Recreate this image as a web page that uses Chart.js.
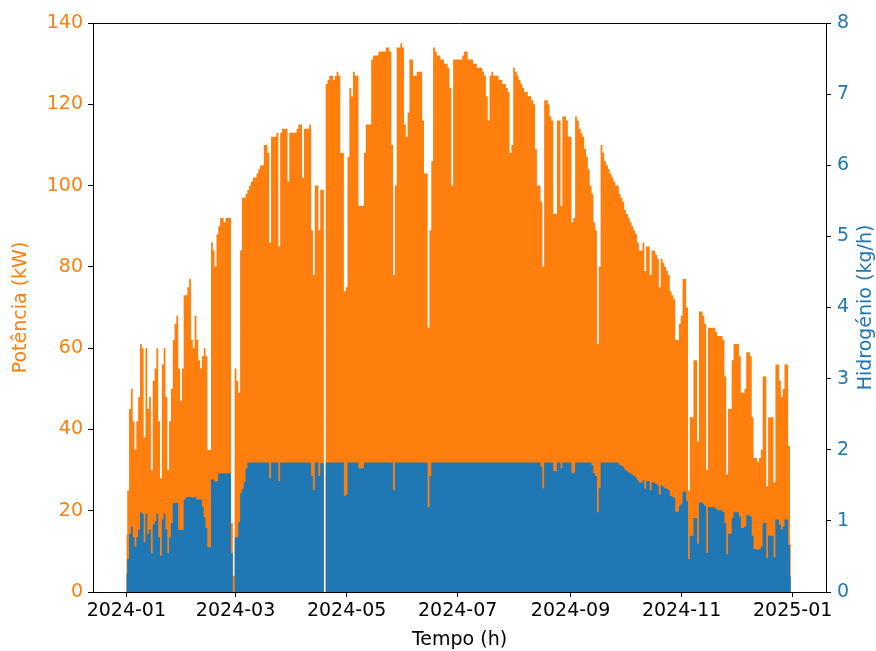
<!DOCTYPE html>
<html><head><meta charset="utf-8">
<script src="https://cdn.jsdelivr.net/npm/chart.js@4.4.1/dist/chart.umd.min.js"></script>
<style>html,body{margin:0;padding:0;background:#fff;}#wrap{width:876px;height:651px;}</style>
</head><body><div id="wrap"><canvas id="c" width="876" height="651"></canvas></div>
<script>
// Daily peak power (kW), one value per day of 2024
const pJan=[14,25,45,50,42,35,42,48,61,60,38,60,45,48,30,52,55,60,42,28,56,60,48,30,42,50,62,66,68,55,47];
const pFeb=[55,73,73,75,77,62,60,68,62,57,55,58,60,58,35,35,86,84,80,88,90,92,92,91,92,92,92,17,4];
const pMar=[55,52,49,84,97,97,98,99,100,101,102,102,103,104,105,105,110,110,108,86,112,112,112,113,85,113,114,114,114,101,113];
const pApr=[113,113,113,114,115,115,102,114,114,114,115,89,78,100,100,89,99,99,0,125,126,127,127,126,127,128,127,108,108,74];
const pMay=[75,107,124,122,128,127,127,95,95,95,108,115,115,115,131,132,132,132,133,133,133,133,134,134,133,110,78,100,134,134,135];
const pJun=[134,115,112,118,131,131,127,127,128,128,128,116,103,103,65,89,106,134,133,132,132,131,131,130,130,129,124,100,131,131];
const pJul=[131,131,131,132,133,133,131,131,131,130,130,129,129,129,128,127,122,116,127,128,127,127,127,126,126,125,125,124,123,108,110];
const pAug=[129,128,127,126,125,124,123,123,122,122,121,120,109,100,100,96,80,121,121,120,117,116,93,93,116,116,95,117,117,116,112];
const pSep=[112,91,92,117,116,114,113,112,109,107,104,100,98,91,89,61,80,110,108,106,105,104,103,102,101,100,100,98,97,96];
const pOct=[94,93,92,91,90,89,88,86,84,84,86,79,85,85,78,84,84,83,82,75,82,81,80,79,78,74,73,72,62,62,66];
const pNov=[68,77,77,70,25,43,43,57,57,37,69,69,68,66,30,65,65,65,65,64,63,63,63,62,53,29,45,45,57,61];
const pDec=[61,61,58,49,49,50,59,59,58,43,33,33,32,33,35,53,53,26,43,43,43,27,56,56,52,48,50,56,56,36,12];

// Daily peak hydrogen (kg/h)
const hJan=[0.26,0.46,0.82,0.92,0.77,0.64,0.77,0.88,1.12,1.1,0.7,1.1,0.82,0.88,0.55,0.95,1.0,1.1,0.77,0.51,1.02,1.1,0.88,0.55,0.77,0.97,1.25,1.25,1.25,0.87,0.87];
const hFeb=[0.87,1.3,1.33,1.34,1.34,1.33,1.33,1.34,1.3,1.3,1.3,1.2,1.05,0.9,0.63,0.63,1.58,1.58,1.55,1.56,1.67,1.67,1.67,1.67,1.67,1.67,1.67,0.55,0.0];
const hMar=[0.77,0.77,0.98,1.39,1.45,1.55,1.74,1.82,1.82,1.82,1.82,1.82,1.82,1.82,1.82,1.82,1.82,1.82,1.82,1.6,1.82,1.82,1.82,1.82,1.56,1.82,1.82,1.82,1.82,1.82,1.82];
const hApr=[1.82,1.82,1.82,1.82,1.82,1.82,1.82,1.82,1.82,1.82,1.82,1.63,1.43,1.82,1.82,1.63,1.81,1.81,0,1.82,1.82,1.82,1.82,1.82,1.82,1.82,1.82,1.82,1.82,1.35];
const hMay=[1.37,1.82,1.82,1.82,1.82,1.82,1.82,1.74,1.74,1.74,1.82,1.82,1.82,1.82,1.82,1.82,1.82,1.82,1.82,1.82,1.82,1.82,1.82,1.82,1.82,1.82,1.43,1.82,1.82,1.82,1.82];
const hJun=[1.82,1.82,1.82,1.82,1.82,1.82,1.82,1.82,1.82,1.82,1.82,1.82,1.82,1.82,1.19,1.63,1.82,1.82,1.82,1.82,1.82,1.82,1.82,1.82,1.82,1.82,1.82,1.82,1.82,1.82];
const hJul=[1.82,1.82,1.82,1.82,1.82,1.82,1.82,1.82,1.82,1.82,1.82,1.82,1.82,1.82,1.82,1.82,1.82,1.82,1.82,1.82,1.82,1.82,1.82,1.82,1.82,1.82,1.82,1.82,1.82,1.82,1.82];
const hAug=[1.82,1.82,1.82,1.82,1.82,1.82,1.82,1.82,1.82,1.82,1.82,1.82,1.82,1.82,1.82,1.76,1.46,1.82,1.82,1.82,1.82,1.82,1.7,1.7,1.82,1.82,1.74,1.82,1.82,1.82,1.82];
const hSep=[1.82,1.67,1.68,1.82,1.82,1.82,1.82,1.82,1.82,1.82,1.82,1.82,1.79,1.67,1.63,1.12,1.46,1.82,1.82,1.82,1.82,1.82,1.82,1.82,1.82,1.82,1.82,1.79,1.78,1.76];
const hOct=[1.72,1.7,1.68,1.67,1.65,1.63,1.61,1.57,1.54,1.54,1.57,1.45,1.56,1.56,1.43,1.54,1.54,1.52,1.5,1.37,1.5,1.48,1.46,1.45,1.43,1.35,1.34,1.32,1.13,1.13,1.21];
const hNov=[1.24,1.41,1.41,1.28,0.46,0.79,0.79,1.04,1.04,0.68,1.26,1.26,1.24,1.21,0.55,1.19,1.19,1.19,1.19,1.17,1.15,1.15,1.15,1.13,0.97,0.53,0.82,0.82,1.04,1.12];
const hDec=[1.12,1.12,1.06,0.9,0.9,0.92,1.08,1.08,1.06,0.79,0.6,0.6,0.59,0.6,0.64,0.97,0.97,0.48,0.79,0.79,0.79,0.49,1.02,1.02,0.95,0.88,0.92,1.02,1.02,0.66,0.22];

// x tick positions (day index from 2024-01-01) and labels
const tickDays=[0,60,121,182,244,305,366];
const tickLabels=['2024-01','2024-03','2024-05','2024-07','2024-09','2024-11','2025-01'];

const power=[].concat(pJan,pFeb,pMar,pApr,pMay,pJun,pJul,pAug,pSep,pOct,pNov,pDec);
const hydrogen=[].concat(hJan,hFeb,hMar,hApr,hMay,hJun,hJul,hAug,hSep,hOct,hNov,hDec);

const ORANGE='#ff7f0e', BLUE='#1f77b4';
const FONT={family:'"DejaVu Sans", sans-serif', size:19};

const framePlugin={
  id:'frame',
  afterDraw(chart){
    const {ctx,chartArea:a}=chart;
    ctx.save();
    ctx.strokeStyle='#000';ctx.lineWidth=1;
    ctx.beginPath();ctx.moveTo(a.left,a.top+0.5);ctx.lineTo(a.right,a.top+0.5);ctx.stroke();
    // right axis title (rotated bottom-to-top like the reference)
    ctx.fillStyle=BLUE;ctx.font='19px "DejaVu Sans", sans-serif';
    ctx.textAlign='center';ctx.textBaseline='middle';
    ctx.translate(866,(a.top+a.bottom)/2);ctx.rotate(-Math.PI/2);
    ctx.fillText('Hidrogénio (kg/h)',0,0);
    ctx.restore();
  }
};

new Chart(document.getElementById('c'),{
  type:'line',
  data:{datasets:[
    {label:'Potência',data:power.map((v,i)=>({x:i,y:v})),yAxisID:'y',
     backgroundColor:ORANGE,borderColor:ORANGE,borderWidth:0,fill:'origin',stepped:'middle',pointRadius:0,order:2},
    {label:'Hidrogénio',data:hydrogen.map((v,i)=>({x:i,y:v})),yAxisID:'y1',
     backgroundColor:BLUE,borderColor:BLUE,borderWidth:0,fill:'origin',stepped:'middle',pointRadius:0,order:1}
  ]},
  options:{
    responsive:false,animation:false,devicePixelRatio:1,
    layout:{padding:{top:23,left:0,right:0,bottom:0}},
    plugins:{legend:{display:false},tooltip:{enabled:false}},
    scales:{
      x:{type:'linear',min:-18.3,max:384.3,
        afterBuildTicks:s=>{s.ticks=tickDays.map(v=>({value:v}));},
        ticks:{color:'#000',font:FONT,padding:3,maxRotation:0,autoSkip:false,
          callback:v=>tickLabels[tickDays.indexOf(v)]},
        grid:{drawOnChartArea:false,tickLength:5,color:'#000',tickColor:'#000'},
        border:{color:'#000',width:1},
        title:{display:true,text:'Tempo (h)',color:'#000',font:FONT,padding:{top:0,bottom:0}},
        afterFit:s=>{s.height=59;}
      },
      y:{position:'left',min:0,max:140,
        ticks:{stepSize:20,color:ORANGE,font:FONT,padding:5},
        grid:{drawOnChartArea:false,tickLength:5,color:'#000',tickColor:'#000'},
        border:{color:'#000',width:1},
        title:{display:true,text:'Potência (kW)',color:ORANGE,font:FONT,padding:{top:10,bottom:4}},
        afterFit:s=>{s.width=93;}
      },
      y1:{position:'right',min:0,max:8,
        ticks:{stepSize:1,color:BLUE,font:FONT,padding:6},
        grid:{drawOnChartArea:false,tickLength:5,color:'#000',tickColor:'#000'},
        border:{color:'#000',width:1},
        afterFit:s=>{s.width=50;}
      }
    }
  },
  plugins:[framePlugin]
});
</script></body></html>
